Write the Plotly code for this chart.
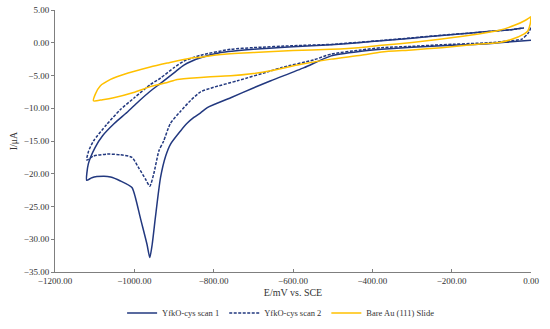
import plotly.graph_objects as go

# ---- data ----
scan1_E = [0, -50, -107, -225, -300, -377, -428, -504, -572, -656, -700, -757, -816, -833, -850,
           -867, -884, -909, -921, -934, -947, -955, -961, -968, -985, -997, -1006,
           -1035, -1060, -1078, -1107, -1120,
           -1116, -1099, -1080, -1050, -1018, -990, -960, -934, -900, -875, -833, -782,
           -700, -600, -504, -428, -377, -300, -225, -150, -100, -50, -18]
scan1_I = [0.4, 0.15, -0.15, -0.45, -0.7, -1.0, -1.3, -2.0, -3.8, -5.8, -6.9, -8.4, -9.9, -10.7, -11.4,
           -12.3, -13.5, -15.5, -17.3, -20.6, -26.7, -30.8, -32.8, -30.8, -26.7, -23.7, -22.1,
           -21.1, -20.5, -20.4, -20.6, -21.0,
           -18.5, -16.0, -14.2, -12.3, -10.6, -9.0, -7.4, -6.2, -4.6, -3.4, -2.3, -1.5,
           -1.0, -0.6, -0.3, 0.05, 0.3, 0.7, 1.1, 1.5, 1.75, 2.0, 2.25]

scan2_E = [0, -8, -23, -60, -107, -225, -300, -377, -428, -504, -547, -630, -656, -740, -800,
           -833, -858, -884, -909, -926, -938, -951, -961, -972, -989, -1006, -1035, -1069,
           -1103, -1120,
           -1115, -1103, -1070, -1035, -1000, -960, -934, -900, -875, -833, -757, -700, -600,
           -504, -428, -377, -300, -225, -150, -100, -50, -18]
scan2_I = [2.3, 1.4, 0.56, 0.25, 0.0, -0.3, -0.55, -0.75, -1.1, -1.73, -2.6, -3.8, -4.3, -5.8, -6.8,
           -7.5, -8.8, -10.5, -12.3, -15.0, -16.5, -20.0, -21.9, -20.8, -19.1, -17.5, -17.1, -17.0,
           -17.3, -17.9,
           -16.5, -15.0, -12.5, -10.2, -8.4, -6.4, -5.4, -3.8, -2.8, -1.9, -1.0, -0.75, -0.45,
           -0.25, 0.1, 0.35, 0.75, 1.15, 1.5, 1.75, 2.0, 2.25]

bare_E = [0, -2, -8, -18, -50, -80, -150, -225, -300, -377, -428, -504, -580, -656, -700, -757,
          -782, -833, -892, -917, -960, -1002, -1052, -1080, -1103,
          -1098, -1086, -1060, -1044, -1002, -960, -917, -859, -833, -782, -700, -600, -504,
          -428, -377, -300, -225, -132, -80, -40, -15, 0]
bare_I = [3.9, 2.86, 1.8, 1.33, 0.5, 0.05, -0.3, -0.75, -1.1, -1.4, -1.9, -2.5, -3.3, -4.28, -4.7, -5.05,
          -5.1, -5.3, -5.6, -6.07, -6.7, -7.6, -8.4, -8.7, -8.87,
          -7.8, -6.6, -5.6, -5.2, -4.4, -3.7, -3.1, -2.35, -2.2, -1.8, -1.5, -1.2, -1.0,
          -0.72, -0.4, 0.05, 0.56, 1.33, 1.9, 2.7, 3.4, 4.0]

series_names = ["YfkO-cys scan 1", "YfkO-cys scan 2", "Bare Au (111) Slide"]
x_ticks = [-1200, -1000, -800, -600, -400, -200, 0]
y_ticks = [5, 0, -5, -10, -15, -20, -25, -30, -35]

NAVY = "#22387F"
GOLD = "#FFC000"
FONT = "Liberation Serif"
TXT = "#333333"

fig = go.Figure()
fig.add_trace(go.Scatter(x=scan1_E, y=scan1_I, mode="lines", name=series_names[0],
                         line=dict(color=NAVY, width=1.5, shape="spline", smoothing=0.6)))
fig.add_trace(go.Scatter(x=scan2_E, y=scan2_I, mode="lines", name=series_names[1],
                         line=dict(color=NAVY, width=1.5, dash="3px,1.5px", shape="spline", smoothing=0.6)))
fig.add_trace(go.Scatter(x=bare_E, y=bare_I, mode="lines", name=series_names[2],
                         line=dict(color=GOLD, width=1.5, shape="spline", smoothing=0.6)))

fig.update_layout(
    width=550, height=329,
    margin=dict(l=55, r=19, t=10, b=57, autoexpand=False),
    paper_bgcolor="white", plot_bgcolor="white",
    font=dict(family=FONT, size=9, color=TXT),
    showlegend=True,
    legend=dict(orientation="h", x=0.475, xanchor="center", yref="container", y=1 - 313 / 329,
                yanchor="middle",
                font=dict(family=FONT, size=8.5, color=TXT), itemwidth=30,
                tracegroupgap=0, bgcolor="rgba(0,0,0,0)"),
)
fig.update_xaxes(range=[-1200, 0], tickvals=x_ticks, tickformat=".2f", automargin=False,
                 showgrid=False, zeroline=False, showline=True, linecolor="#7f7f7f", linewidth=1,
                 ticks="inside", ticklen=3, tickcolor="#7f7f7f",
                 title=dict(text="E/mV vs. SCE", font=dict(family=FONT, size=10, color=TXT), standoff=6),
                 tickfont=dict(family=FONT, size=9, color=TXT))
fig.update_yaxes(range=[-35, 5], tickvals=y_ticks, tickformat=".2f", automargin=False,
                 showgrid=False, zeroline=False, showline=True, linecolor="#7f7f7f", linewidth=1,
                 ticks="outside", ticklen=3, tickcolor="#7f7f7f",
                 title=dict(text="I/μA", font=dict(family=FONT, size=10, color=TXT), standoff=4),
                 tickfont=dict(family=FONT, size=9, color=TXT))

# remove the browser's default 8px body margin so the figure fills the window exactly
fig.write_html("out.html", config={"displayModeBar": False},
               post_script="document.body.style.margin='0px';")
